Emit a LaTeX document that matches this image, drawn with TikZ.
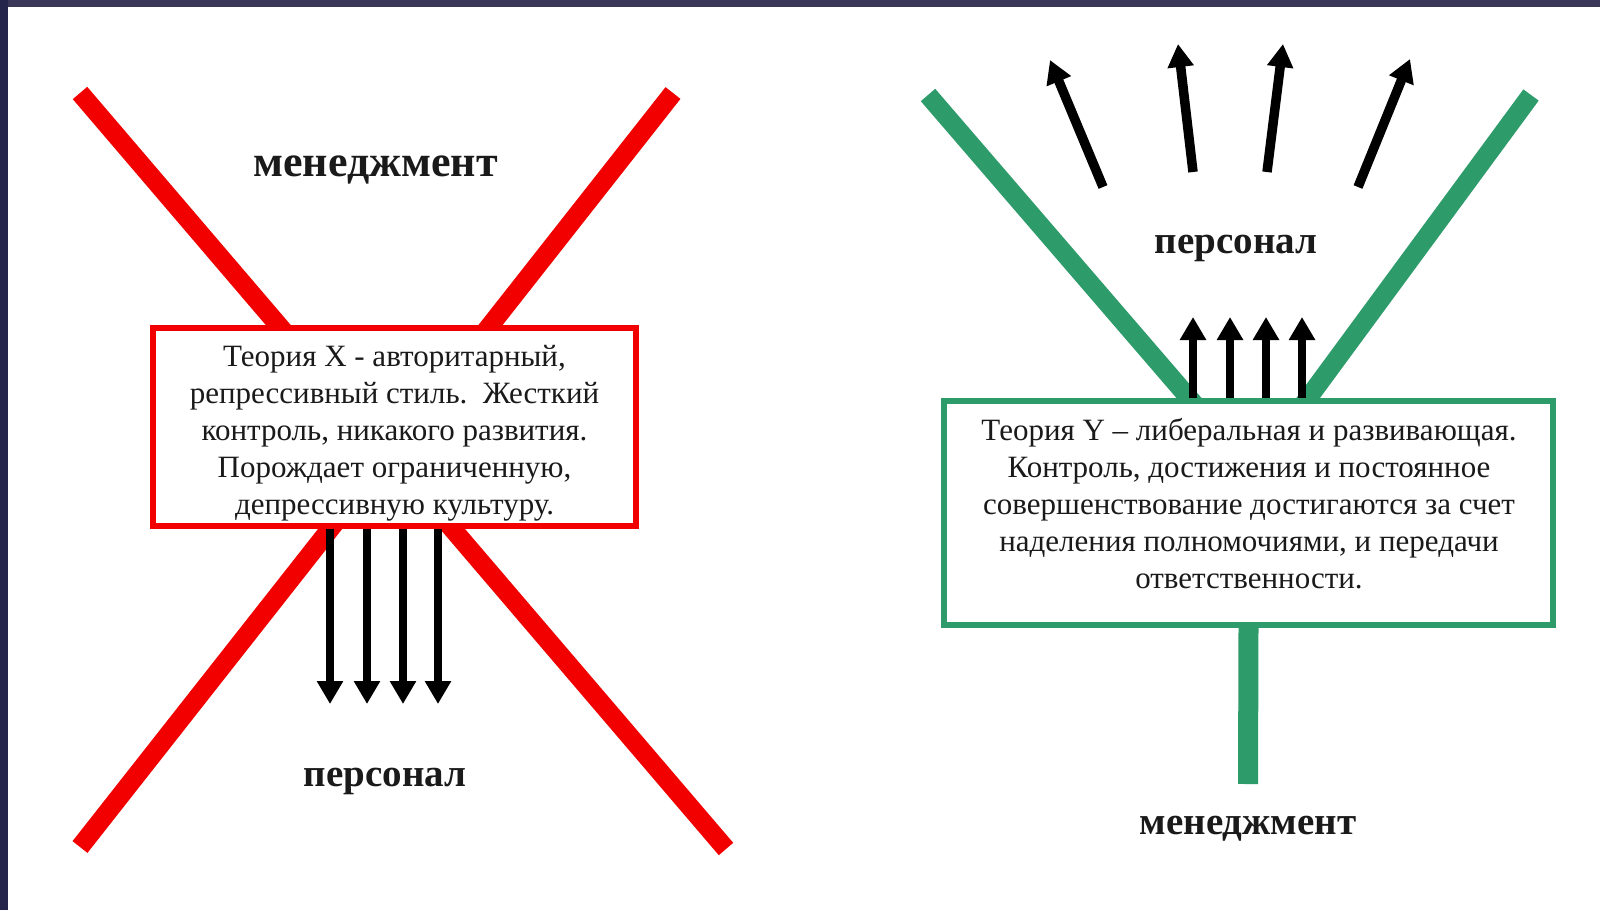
\documentclass[tikz,border=0pt]{standalone}
\usepackage{fontspec}
\setmainfont{Liberation Serif}
\usetikzlibrary{arrows.meta}
\definecolor{xred}{HTML}{F20000}
\definecolor{ygreen}{HTML}{2E9B6B}
\definecolor{frametop}{HTML}{3A3658}
\definecolor{frameleft}{HTML}{25244A}
\definecolor{ink}{HTML}{1A1A1A}
\begin{document}
\begin{tikzpicture}[x=1pt,y=-1pt,
  redline/.style={xred, line width=19pt},
  greenline/.style={ygreen, line width=19pt},
  xbox/.style={draw=xred, line width=6pt, fill=white, minimum width=483pt, minimum height=198pt, inner sep=0pt},
  ybox/.style={draw=ygreen, line width=6pt, fill=white, minimum width=609pt, minimum height=223.5pt, inner sep=0pt},
  boxtext/.style={align=center, font=\fontsize{31}{37}\selectfont, text=ink, inner sep=0pt},
  lbl/.style={font=\fontsize{39}{45}\selectfont\bfseries, text=ink, anchor=base, inner sep=0pt},
  arr/.style={line width=8.5pt, -{Triangle[width=25pt,length=23pt]}},
]
% background and frame
\fill[white] (0,0) rectangle (1600,910);
\fill[frametop] (0,0) rectangle (1600,7);
\fill[frameleft] (0,0) rectangle (8,910);
\useasboundingbox (0,0) rectangle (1600,910);

% ---------- Theory X ----------
\coordinate (a1) at (80,93);
\coordinate (a2) at (726,849);
\coordinate (b1) at (673,93);
\coordinate (b2) at (80,847);
\draw[redline] (a1) -- (a2);
\draw[redline] (b1) -- (b2);
\node[xbox] (xb) at (394.5,426.5) {};
\node[boxtext] (xt) at (394.5,433) {Теория X - авторитарный,\\репрессивный стиль.\ \ Жесткий\\контроль, никакого развития.\\Порождает ограниченную,\\депрессивную культуру.};
\foreach \i/\x in {1/330,2/367,3/403,4/438}{
  \coordinate (d\i) at (\x,704);
  \draw[arr] (xb.south -| d\i) -- (d\i);
}
\node[lbl, font=\fontsize{44}{50}\selectfont\bfseries] (xm) at (375.5,176.5) {менеджмент};
\node[lbl] (xp) at (385,786) {персонал};

% ---------- Theory Y ----------
\coordinate (g1) at (928,95);
\coordinate (g2) at (1195,405);
\coordinate (h1) at (1531,95);
\coordinate (h2) at (1303,405);
\draw[greenline] (g1) -- (g2);
\draw[greenline] (h1) -- (h2);
\node[ybox] (yb) at (1248.5,512.75) {};
\node[boxtext] (yt) at (1249,504) {Теория Y -- либеральная и развивающая.\\Контроль, достижения и постоянное\\совершенствование достигаются за счет\\наделения полномочиями, и передачи\\ответственности.};
\coordinate (stem) at (1248,784);
\draw[ygreen, line width=20pt] (yb.south) -- (stem);
\foreach \i/\x in {1/1193,2/1230,3/1266,4/1302}{
  \coordinate (u\i) at (\x,317);
  \draw[arr] (yb.north -| u\i) -- (u\i);
}
\coordinate (ft1) at (1103,187); \coordinate (fh1) at (1050,60);
\coordinate (ft2) at (1193,172); \coordinate (fh2) at (1178,44);
\coordinate (ft3) at (1267,172); \coordinate (fh3) at (1283,44);
\coordinate (ft4) at (1358,187); \coordinate (fh4) at (1410,59);
\foreach \i in {1,2,3,4}{
  \draw[arr, line width=9.5pt] (ft\i) -- (fh\i);
}
\node[lbl] (yp) at (1236,253) {персонал};
\node[lbl] (ym) at (1248,834) {менеджмент};
\end{tikzpicture}
\end{document}
